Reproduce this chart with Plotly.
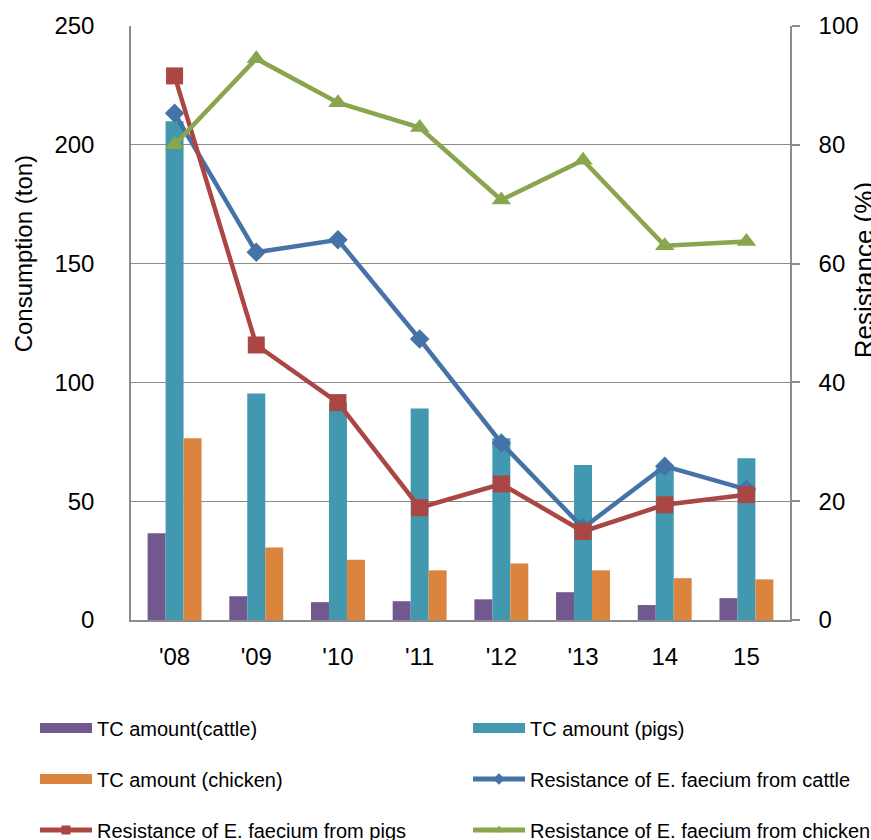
import plotly.graph_objects as go

# Fiscal years
years = ["'08", "'09", "'10", "'11", "'12", "'13", "14", "15"]

# Tetracycline consumption (ton)
tc_cattle = [36.5, 10.0, 7.5, 7.9, 8.7, 11.7, 6.3, 9.2]
tc_pigs = [209.9, 95.3, 91.5, 89.0, 76.5, 65.2, 63.8, 68.1]
tc_chicken = [76.5, 30.5, 25.4, 20.9, 23.8, 20.9, 17.6, 17.1]

# Resistance of E. faecium (%)
res_cattle = [85.3, 61.9, 64.0, 47.3, 29.8, 15.5, 25.9, 22.0]
res_pigs = [91.6, 46.3, 36.6, 18.9, 22.9, 14.9, 19.4, 21.1]
res_chicken = [80.0, 94.5, 87.1, 82.9, 70.7, 77.4, 63.0, 63.7]

FONT = "Liberation Sans, Arial, sans-serif"
GRID = "#8C8C8C"

C_PURPLE = "#71588F"
C_TEAL = "#4198AF"
C_ORANGE = "#DB843D"
C_BLUE = "#4572A7"
C_RED = "#AA4643"
C_GREEN = "#89A54E"

fig = go.Figure()

bar_specs = [
    ("TC amount(cattle)", tc_cattle, C_PURPLE, "legend"),
    ("TC amount (pigs)", tc_pigs, C_TEAL, "legend2"),
    ("TC amount (chicken)", tc_chicken, C_ORANGE, "legend3"),
]
for name, vals, color, lg in bar_specs:
    fig.add_trace(go.Bar(
        x=years, y=vals, name=name, marker=dict(color=color, line=dict(width=0)),
        legendgroup=name, showlegend=False, yaxis="y",
    ))
    # wide rectangular legend swatch
    fig.add_trace(go.Scatter(
        x=[None], y=[None], mode="lines", name=name, legendgroup=name,
        line=dict(color=color, width=11), legend=lg, showlegend=True,
        hoverinfo="skip",
    ))

line_specs = [
    ("Resistance of E. faecium from cattle", res_cattle, C_BLUE, "diamond", 15, "legend4"),
    ("Resistance of E. faecium from pigs", res_pigs, C_RED, "square", 17, "legend5"),
    ("Resistance of E. faecium from chicken", res_chicken, C_GREEN, "triangle-up", 17, "legend6"),
]
for name, vals, color, sym, size, lg in line_specs:
    fig.add_trace(go.Scatter(
        x=years, y=vals, name=name, mode="lines+markers", yaxis="y2",
        line=dict(color=color, width=4.5),
        marker=dict(symbol=sym, size=size, color=color),
        legendgroup=name, showlegend=False,
    ))
    # legend entry with a smaller marker
    fig.add_trace(go.Scatter(
        x=[None], y=[None], mode="lines+markers", name=name, yaxis="y2",
        line=dict(color=color, width=5),
        marker=dict(symbol=sym, size=9, color=color),
        legendgroup=name, legend=lg, showlegend=True, hoverinfo="skip",
    ))

# legend placement: two columns, three rows
col_x = [35, 468]
row_y = [728, 779, 830]
W, H = 871, 840
legend_pos = {
    "legend": (col_x[0], row_y[0]),
    "legend2": (col_x[1], row_y[0]),
    "legend3": (col_x[0], row_y[1]),
    "legend4": (col_x[1], row_y[1]),
    "legend5": (col_x[0], row_y[2]),
    "legend6": (col_x[1], row_y[2]),
}
legends = {}
for key, (px, py) in legend_pos.items():
    legends[key] = dict(
        xref="container", yref="container",
        x=px / W, y=1 - py / H, xanchor="left", yanchor="middle",
        orientation="h", itemwidth=52, bgcolor="rgba(0,0,0,0)",
        font=dict(family=FONT, size=20, color="#000000"),
        borderwidth=0, itemclick=False, itemdoubleclick=False,
    )

fig.update_layout(
    width=W, height=H,
    margin=dict(l=131, r=76, t=22, b=220, pad=0),
    paper_bgcolor="white", plot_bgcolor="white",
    barmode="group", bargap=0.34, bargroupgap=0,
    font=dict(family=FONT, size=24, color="#000000"),
    xaxis=dict(
        type="category", showline=True, linecolor=GRID, linewidth=1.5,
        showgrid=False, ticks="", tickfont=dict(size=24),
        ticklabelstandoff=14,
    ),
    yaxis=dict(
        range=[0, 250], dtick=50, showline=True, linecolor=GRID, linewidth=1.5,
        showgrid=True, gridcolor=GRID, gridwidth=1.3, zeroline=False,
        ticks="", tickfont=dict(size=24), ticklabelstandoff=30,
    ),
    yaxis2=dict(
        range=[0, 100], dtick=20, overlaying="y", side="right",
        showline=True, linecolor=GRID, linewidth=1.5, showgrid=False,
        zeroline=False, ticks="outside", ticklen=8, tickcolor=GRID,
        tickwidth=1.5, tickfont=dict(size=24), ticklabelstandoff=14,
    ),
    annotations=[
        dict(text="Consumption (ton)", xref="paper", yref="paper",
             x=(23 - 131) / 664.5, y=(620 - 251) / 598, textangle=-90,
             showarrow=False, xanchor="center", yanchor="middle",
             font=dict(family=FONT, size=24)),
        dict(text="Resistance (%)", xref="paper", yref="paper",
             x=(870 - 131) / 664.5, y=(620 - 268) / 598, textangle=-90,
             showarrow=False, xanchor="center", yanchor="middle",
             font=dict(family=FONT, size=26)),
    ],
    **legends,
)

fig.write_html("out.html")
